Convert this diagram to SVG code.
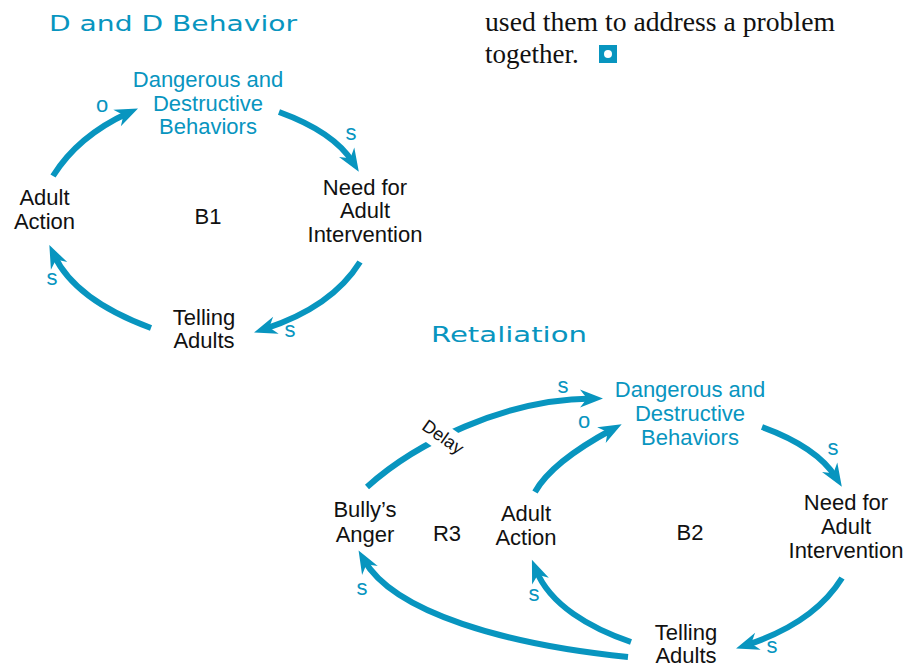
<svg xmlns="http://www.w3.org/2000/svg" width="920" height="666" viewBox="0 0 920 666">
<style>
text{font-family:"Liberation Sans",Arial,sans-serif;font-size:22px;fill:#111;text-anchor:middle}
text.b{fill:#0895bf}
text.t{font-family:"DejaVu Sans",sans-serif;font-size:22px;fill:#0895bf;text-anchor:start}
text.p{fill:#0895bf}
text.d{font-size:18px}
text.prose{font-family:"Liberation Serif","Times New Roman",serif;font-size:27px;text-anchor:start;fill:#111}
.c{fill:none;stroke:#0895bf;stroke-width:6;marker-end:url(#ah)}
</style>
<defs>
<marker id="ah" markerUnits="userSpaceOnUse" markerWidth="30" markerHeight="30" refX="0" refY="0" viewBox="-15 -15 30 30" orient="auto" overflow="visible">
<path d="M11,0 L-12,-9 L-5,0 L-12,9 Z" fill="#0895bf"/>
</marker>
</defs>
<rect width="920" height="666" fill="#fff"/>

<g id="prose">
<text class="prose" x="485" y="31" textLength="350" lengthAdjust="spacingAndGlyphs">used them to address a problem</text>
<text class="prose" x="485" y="63">together.</text>
<rect x="599" y="45" width="18" height="18" fill="#0895bf"/>
<circle cx="608" cy="54" r="4" fill="#fff"/>
</g>

<g id="titles">
<text class="t" x="49" y="31" textLength="248" lengthAdjust="spacingAndGlyphs">D and D Behavior</text>
<text class="t" x="431" y="342" textLength="156" lengthAdjust="spacingAndGlyphs">Retaliation</text>
</g>

<g id="connectors">
<path class="c" d="M53,176 Q78,136 128,113"/>
<path class="c" d="M279,112 Q334,132 353,162.5"/>
<path class="c" d="M360,262 Q332,307 264.5,329"/>
<path class="c" d="M151,328 Q75,300 54,255"/>
<path class="c" d="M367,487 C415,443.5 505,399 592,398.5"/>
<path class="c" d="M535,492 C550,465 587,443 612,429.5"/>
<path class="c" d="M762,427 Q817,447 836,477.5"/>
<path class="c" d="M842,578 Q814,623 746.5,645"/>
<path class="c" d="M631,642 C590,628 550,605 536,570"/>
<path class="c" d="M628,657 C508,645 394,613 364,560"/>
</g>

<g id="labels">
<text class="p" x="102" y="112">o</text>
<text class="p" x="351" y="140">s</text>
<text class="p" x="290" y="337">s</text>
<text class="p" x="52" y="285">s</text>
<text class="p" x="563" y="393">s</text>
<text class="p" x="584" y="428">o</text>
<text class="p" x="833" y="455">s</text>
<text class="p" x="772" y="653">s</text>
<text class="p" x="362" y="595">s</text>
<text class="p" x="534" y="601">s</text>
<rect x="-26" y="-13" width="52" height="26" fill="#fff" transform="translate(440,436) rotate(35)"/>
<text class="d" transform="translate(443,437) rotate(35)" y="6">Delay</text>
</g>

<g id="n1-danger">
<text class="b" x="208" y="87">Dangerous and</text>
<text class="b" x="208" y="111">Destructive</text>
<text class="b" x="208" y="134">Behaviors</text>
</g>
<g id="n1-need">
<text x="365" y="195">Need for</text>
<text x="365" y="218">Adult</text>
<text x="365" y="242">Intervention</text>
</g>
<g id="n1-telling">
<text x="204" y="325">Telling</text>
<text x="204" y="348">Adults</text>
</g>
<g id="n1-action">
<text x="44.5" y="205">Adult</text>
<text x="44.5" y="229">Action</text>
</g>
<g id="loop-b1"><text x="208" y="224">B1</text></g>

<g id="n2-danger">
<text class="b" x="690" y="397">Dangerous and</text>
<text class="b" x="690" y="421">Destructive</text>
<text class="b" x="690" y="445">Behaviors</text>
</g>
<g id="n2-need">
<text x="846" y="510">Need for</text>
<text x="846" y="534">Adult</text>
<text x="846" y="558">Intervention</text>
</g>
<g id="n2-telling">
<text x="686" y="640">Telling</text>
<text x="686" y="663">Adults</text>
</g>
<g id="n2-action">
<text x="526" y="521">Adult</text>
<text x="526" y="545">Action</text>
</g>
<g id="n2-anger">
<text x="365" y="517">Bully’s</text>
<text x="365" y="542">Anger</text>
</g>
<g id="loop-r3"><text x="447" y="541">R3</text></g>
<g id="loop-b2"><text x="690" y="540">B2</text></g>
</svg>
